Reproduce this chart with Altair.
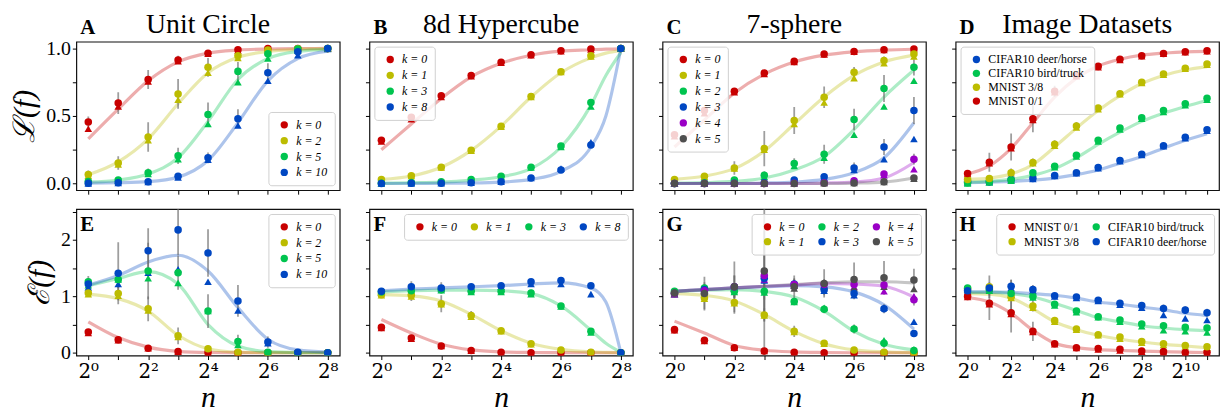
import altair as alt
import pandas as pd

FONT = "Liberation Serif"
RED, YEL, GRN, BLU, PUR, GRY = "#c80000", "#bcbc00", "#00c44f", "#0047c2", "#9a00c6", "#4f4f4f"

X9 = [0, 1, 2, 3, 4, 5, 6, 7, 8]
X12 = [0, 1, 2, 3, 4, 5, 6, 7, 8, 9, 10, 11]
XB = [0, 1, 2, 3, 4, 5, 6, 7, 7.5, 8]

# ---------------- Panel A: Unit Circle ----------------
A_LABELS = ["k = 0", "k = 2", "k = 5", "k = 10"]
A_CIRC = [[0.455, 0.595, 0.77, 0.915, 0.965, 0.99, 1.0, 1.0, 1.0],
          [0.066, 0.152, 0.344, 0.663, 0.86, 0.946, 0.988, 0.998, 1.0],
          [0.015, 0.025, 0.08, 0.205, 0.51, 0.83, 0.96, 0.995, 1.0],
          [0.002, 0.005, 0.012, 0.054, 0.19, 0.48, 0.82, 0.975, 1.0]]
A_TRI = [[0.405, 0.57, 0.755, 0.905, 0.96, 0.985, 0.995, 1.0, 1.0],
         [0.058, 0.14, 0.32, 0.62, 0.82, 0.93, 0.98, 0.995, 1.0],
         [0.01, 0.02, 0.07, 0.18, 0.44, 0.75, 0.925, 0.985, 1.0],
         [0.0, 0.003, 0.01, 0.045, 0.175, 0.43, 0.76, 0.95, 0.995]]
A_ERR = [[0.04, 0.08, 0.07, 0.03, 0.02, 0.01, 0.005, 0.0, 0.0],
         [0.03, 0.05, 0.11, 0.11, 0.07, 0.03, 0.01, 0.005, 0.0],
         [0.01, 0.02, 0.03, 0.06, 0.09, 0.07, 0.03, 0.01, 0.0],
         [0.0, 0.005, 0.01, 0.02, 0.04, 0.07, 0.07, 0.03, 0.01]]
A_CURVE = [[0.33, 0.55, 0.76, 0.90, 0.965, 0.988, 0.996, 0.999, 1.0],
           [0.065, 0.16, 0.33, 0.59, 0.82, 0.935, 0.978, 0.993, 0.998],
           [0.01, 0.025, 0.07, 0.19, 0.46, 0.77, 0.925, 0.978, 0.993],
           [0.002, 0.005, 0.013, 0.047, 0.17, 0.45, 0.76, 0.925, 0.98]]

# ---------------- Panel B: 8d Hypercube ----------------
B_LABELS = ["k = 0", "k = 1", "k = 3", "k = 8"]
B_CIRC = [[0.32, 0.49, 0.65, 0.80, 0.897, 0.953, 0.983, 0.995, 1.0],
          [0.03, 0.057, 0.12, 0.246, 0.423, 0.644, 0.828, 0.945, 1.0],
          [0.002, 0.007, 0.012, 0.03, 0.054, 0.12, 0.278, 0.60, 1.0],
          [0.0, 0.001, 0.002, 0.005, 0.012, 0.04, 0.10, 0.285, 1.0]]
B_TRI = [[0.31, 0.475, 0.64, 0.795, 0.895, 0.95, 0.98, 0.993, 1.0],
         [0.028, 0.055, 0.118, 0.243, 0.42, 0.64, 0.825, 0.94, 1.0],
         [0.001, 0.006, 0.011, 0.028, 0.052, 0.118, 0.27, 0.57, 1.0],
         [0.0, 0.0, 0.002, 0.005, 0.012, 0.04, 0.11, 0.305, 1.0]]
B_ERR = [[0.015, 0.02, 0.015, 0.01, 0.01, 0.005, 0.005, 0.0, 0.0],
         [0.005, 0.01, 0.015, 0.02, 0.025, 0.02, 0.01, 0.01, 0.0],
         [0.0, 0.0, 0.0, 0.005, 0.01, 0.015, 0.02, 0.02, 0.0],
         [0.0, 0.0, 0.0, 0.0, 0.005, 0.01, 0.02, 0.02, 0.0]]
B_CURVE = [[0.25, 0.44, 0.63, 0.79, 0.89, 0.95, 0.98, 0.99, 0.995, 0.997],
           [0.03, 0.055, 0.12, 0.245, 0.425, 0.64, 0.82, 0.93, 0.965, 0.985],
           [0.002, 0.005, 0.01, 0.025, 0.05, 0.11, 0.27, 0.58, 0.8, 0.97],
           [0.0, 0.0, 0.001, 0.003, 0.01, 0.03, 0.09, 0.27, 0.5, 1.0]]

# ---------------- Panel C: 7-sphere ----------------
C_LABELS = ["k = 0", "k = 1", "k = 2", "k = 3", "k = 4", "k = 5"]
C_CIRC = [[0.36, 0.54, 0.683, 0.818, 0.904, 0.958, 0.978, 0.99, 0.995],
          [0.03, 0.054, 0.115, 0.258, 0.467, 0.639, 0.823, 0.91, 0.958],
          [0.0, 0.005, 0.025, 0.06, 0.147, 0.216, 0.474, 0.703, 0.86],
          [0.0, 0.0, 0.001, 0.005, 0.025, 0.05, 0.115, 0.27, 0.54],
          [0.0, 0.0, 0.0, 0.0, 0.002, 0.006, 0.02, 0.07, 0.18],
          [0.0, 0.0, 0.0, 0.0, 0.0, 0.002, 0.004, 0.012, 0.04]]
C_TRI = [[0.35, 0.52, 0.675, 0.81, 0.9, 0.955, 0.975, 0.988, 0.995],
         [0.028, 0.05, 0.11, 0.25, 0.44, 0.60, 0.78, 0.89, 0.94],
         [0.0, 0.004, 0.02, 0.05, 0.13, 0.19, 0.36, 0.57, 0.76],
         [0.0, 0.0, 0.001, 0.004, 0.02, 0.045, 0.1, 0.18, 0.33],
         [0.0, 0.0, 0.0, 0.0, 0.002, 0.005, 0.015, 0.06, 0.105],
         [0.0, 0.0, 0.0, 0.0, 0.0, 0.002, 0.004, 0.01, 0.035]]
C_ERR = [[0.02, 0.02, 0.02, 0.015, 0.01, 0.01, 0.005, 0.005, 0.0],
         [0.01, 0.02, 0.05, 0.13, 0.1, 0.08, 0.04, 0.03, 0.02],
         [0.0, 0.005, 0.01, 0.03, 0.04, 0.07, 0.08, 0.1, 0.06],
         [0.0, 0.0, 0.0, 0.005, 0.01, 0.02, 0.04, 0.06, 0.1],
         [0.0, 0.0, 0.0, 0.0, 0.0, 0.005, 0.01, 0.02, 0.04],
         [0.0, 0.0, 0.0, 0.0, 0.0, 0.0, 0.005, 0.01, 0.02]]
C_CURVE = [[0.27, 0.47, 0.67, 0.81, 0.9, 0.95, 0.975, 0.988, 0.994],
           [0.03, 0.055, 0.11, 0.24, 0.44, 0.64, 0.80, 0.90, 0.95],
           [0.002, 0.006, 0.015, 0.04, 0.1, 0.2, 0.4, 0.64, 0.84],
           [0.0, 0.0, 0.0, 0.003, 0.01, 0.03, 0.08, 0.19, 0.45],
           [0.0, 0.0, 0.0, 0.0, 0.0, 0.003, 0.01, 0.04, 0.155],
           [0.0, 0.0, 0.0, 0.0, 0.0, 0.0, 0.003, 0.01, 0.04]]

# ---------------- Panel D: Image Datasets ----------------
D_LABELS = ["CIFAR10 deer/horse", "CIFAR10 bird/truck", "MNIST 3/8", "MNIST 0/1"]
D_CIRC = [[0.012, 0.012, 0.03, 0.037, 0.059, 0.08, 0.118, 0.17, 0.216, 0.28, 0.342, 0.398],
          [0.005, 0.012, 0.025, 0.08, 0.128, 0.209, 0.32, 0.41, 0.486, 0.54, 0.59, 0.631],
          [0.03, 0.037, 0.08, 0.155, 0.29, 0.425, 0.558, 0.665, 0.75, 0.81, 0.853, 0.885],
          [0.074, 0.157, 0.27, 0.48, 0.683, 0.80, 0.867, 0.92, 0.946, 0.963, 0.975, 0.983]]
D_TRI = [[0.008, 0.01, 0.025, 0.033, 0.055, 0.075, 0.112, 0.165, 0.21, 0.275, 0.335, 0.39],
         [0.0, 0.008, 0.02, 0.075, 0.12, 0.2, 0.31, 0.4, 0.48, 0.53, 0.58, 0.62],
         [0.025, 0.03, 0.075, 0.15, 0.28, 0.415, 0.55, 0.66, 0.745, 0.805, 0.85, 0.88],
         [0.07, 0.15, 0.26, 0.47, 0.675, 0.795, 0.86, 0.915, 0.942, 0.96, 0.972, 0.98]]
D_ERR = [[0.01, 0.02, 0.03, 0.015, 0.01, 0.01, 0.01, 0.01, 0.01, 0.01, 0.01, 0.01],
         [0.005, 0.01, 0.01, 0.02, 0.02, 0.02, 0.02, 0.015, 0.01, 0.01, 0.01, 0.01],
         [0.01, 0.015, 0.03, 0.03, 0.03, 0.03, 0.02, 0.02, 0.01, 0.01, 0.01, 0.01],
         [0.02, 0.07, 0.1, 0.1, 0.04, 0.02, 0.01, 0.01, 0.01, 0.005, 0.005, 0.005]]
D_CURVE = [[0.005, 0.01, 0.015, 0.025, 0.04, 0.065, 0.1, 0.15, 0.2, 0.26, 0.32, 0.368],
           [0.01, 0.015, 0.03, 0.06, 0.11, 0.19, 0.29, 0.38, 0.46, 0.52, 0.57, 0.614],
           [0.03, 0.04, 0.07, 0.14, 0.27, 0.41, 0.54, 0.65, 0.74, 0.8, 0.84, 0.865],
           [0.07, 0.13, 0.26, 0.45, 0.64, 0.78, 0.87, 0.92, 0.95, 0.965, 0.975, 0.978]]

# ---------------- Panel E: Unit Circle (bottom) ----------------
E_LABELS = ["k = 0", "k = 2", "k = 5", "k = 10"]
E_CIRC = [[0.37, 0.23, 0.08, 0.02, 0.005, 0.0, 0.0, 0.0, 0.0],
          [1.06, 1.05, 0.78, 0.30, 0.07, 0.01, 0.0, 0.0, 0.0],
          [1.26, 1.30, 1.45, 1.42, 0.74, 0.20, 0.01, 0.0, 0.0],
          [1.22, 1.41, 1.81, 2.18, 1.77, 0.92, 0.19, 0.01, 0.0]]
E_TRI = [[0.35, 0.22, 0.08, 0.02, 0.005, 0.0, 0.0, 0.0, 0.0],
         [1.04, 1.01, 0.75, 0.28, 0.04, 0.005, 0.0, 0.0, 0.0],
         [1.2, 1.3, 1.32, 1.24, 0.74, 0.14, 0.01, 0.0, 0.0],
         [1.16, 1.22, 1.42, 1.48, 1.26, 0.75, 0.17, 0.005, 0.0]]
E_ERR = [[0.05, 0.05, 0.02, 0.01, 0.0, 0.0, 0.0, 0.0, 0.0],
         [0.05, 0.12, 0.22, 0.15, 0.06, 0.02, 0.0, 0.0, 0.0],
         [0.1, 0.15, 0.5, 0.3, 0.3, 0.12, 0.02, 0.0, 0.0],
         [0.1, 0.55, 0.4, 0.45, 0.42, 0.28, 0.1, 0.02, 0.0]]
E_CURVE = [[0.55, 0.27, 0.1, 0.025, 0.005, 0.001, 0.0, 0.0, 0.0],
           [1.04, 0.96, 0.74, 0.31, 0.07, 0.01, 0.002, 0.0, 0.0],
           [1.19, 1.32, 1.44, 1.22, 0.5, 0.12, 0.02, 0.003, 0.0],
           [1.2, 1.37, 1.61, 1.73, 1.45, 0.8, 0.24, 0.05, 0.01]]

# ---------------- Panel F: 8d Hypercube (bottom) ----------------
F_LABELS = ["k = 0", "k = 1", "k = 3", "k = 8"]
F_CIRC = [[0.45, 0.26, 0.12, 0.04, 0.01, 0.0, 0.0, 0.0, 0.0],
          [1.03, 1.02, 0.87, 0.66, 0.39, 0.16, 0.05, 0.01, 0.0],
          [1.08, 1.1, 1.12, 1.09, 1.09, 1.06, 0.83, 0.38, 0.0],
          [1.09, 1.17, 1.15, 1.17, 1.19, 1.26, 1.28, 1.19, 0.0]]
F_TRI = [[0.44, 0.25, 0.12, 0.035, 0.01, 0.0, 0.0, 0.0, 0.0],
         [1.02, 1.0, 0.86, 0.64, 0.38, 0.15, 0.045, 0.01, 0.0],
         [1.07, 1.09, 1.11, 1.08, 1.08, 1.04, 0.82, 0.36, 0.0],
         [1.08, 1.14, 1.13, 1.15, 1.17, 1.22, 1.22, 1.04, 0.0]]
F_ERR = [[0.03, 0.03, 0.02, 0.01, 0.0, 0.0, 0.0, 0.0, 0.0],
         [0.03, 0.1, 0.15, 0.08, 0.04, 0.02, 0.01, 0.0, 0.0],
         [0.03, 0.05, 0.05, 0.04, 0.05, 0.06, 0.04, 0.03, 0.0],
         [0.03, 0.1, 0.1, 0.05, 0.04, 0.04, 0.04, 0.03, 0.0]]
F_CURVE = [[0.59, 0.35, 0.15, 0.05, 0.015, 0.005, 0.002, 0.0, 0.0, 0.0],
           [1.03, 1.01, 0.92, 0.68, 0.39, 0.17, 0.06, 0.015, 0.008, 0.003],
           [1.08, 1.1, 1.11, 1.11, 1.1, 1.05, 0.83, 0.4, 0.17, 0.01],
           [1.1, 1.13, 1.15, 1.17, 1.19, 1.22, 1.24, 1.15, 0.9, 0.0]]

# ---------------- Panel G: 7-sphere (bottom) ----------------
G_LABELS = ["k = 0", "k = 1", "k = 2", "k = 3", "k = 4", "k = 5"]
G_CIRC = [[0.41, 0.22, 0.09, 0.03, 0.01, 0.0, 0.0, 0.0, 0.0],
          [1.05, 0.97, 0.89, 0.67, 0.38, 0.17, 0.05, 0.01, 0.0],
          [1.09, 1.15, 1.09, 1.09, 0.91, 0.77, 0.42, 0.17, 0.04],
          [1.05, 1.12, 1.17, 1.32, 1.22, 1.12, 1.05, 0.78, 0.34],
          [1.05, 1.1, 1.17, 1.37, 1.21, 1.21, 1.21, 1.2, 0.94],
          [1.06, 1.05, 1.17, 1.45, 1.17, 1.23, 1.30, 1.33, 1.29]]
G_TRI = [[0.4, 0.21, 0.09, 0.03, 0.01, 0.0, 0.0, 0.0, 0.0],
         [1.04, 0.96, 0.88, 0.66, 0.37, 0.16, 0.05, 0.01, 0.0],
         [1.08, 1.13, 1.08, 1.07, 0.9, 0.8, 0.44, 0.22, 0.06],
         [1.04, 1.1, 1.15, 1.28, 1.2, 1.1, 1.02, 0.8, 0.55],
         [1.04, 1.09, 1.15, 1.3, 1.19, 1.18, 1.17, 1.09, 1.0],
         [1.05, 1.04, 1.15, 1.4, 1.14, 1.2, 1.15, 1.17, 1.13]]
G_ERR = [[0.03, 0.03, 0.02, 0.01, 0.0, 0.0, 0.0, 0.0, 0.0],
         [0.05, 0.2, 0.2, 0.12, 0.1, 0.05, 0.02, 0.01, 0.0],
         [0.05, 0.1, 0.1, 0.15, 0.06, 0.07, 0.08, 0.08, 0.04],
         [0.05, 0.1, 0.2, 0.6, 0.1, 0.1, 0.1, 0.08, 0.06],
         [0.05, 0.1, 0.2, 0.8, 0.1, 0.1, 0.1, 0.1, 0.1],
         [0.05, 0.3, 0.45, 1.5, 0.2, 0.25, 0.3, 0.3, 0.2]]
G_CURVE = [[0.56, 0.35, 0.13, 0.045, 0.015, 0.005, 0.0, 0.0, 0.0],
           [1.05, 1.02, 0.92, 0.68, 0.38, 0.16, 0.05, 0.015, 0.003],
           [1.09, 1.11, 1.12, 1.09, 0.99, 0.74, 0.38, 0.15, 0.05],
           [1.09, 1.12, 1.15, 1.17, 1.19, 1.17, 1.08, 0.85, 0.42],
           [1.09, 1.12, 1.15, 1.18, 1.2, 1.23, 1.22, 1.18, 0.99],
           [1.09, 1.12, 1.15, 1.18, 1.21, 1.24, 1.26, 1.26, 1.24]]

# ---------------- Panel H: Image Datasets (bottom) ----------------
H_LABELS = ["MNIST 0/1", "MNIST 3/8", "CIFAR10 bird/truck", "CIFAR10 deer/horse"]
H_CIRC = [[1.0, 0.88, 0.71, 0.38, 0.16, 0.09, 0.075, 0.06, 0.03, 0.02, 0.005, 0.005],
          [1.13, 1.17, 0.99, 0.83, 0.57, 0.42, 0.32, 0.28, 0.2, 0.16, 0.13, 0.105],
          [1.15, 1.12, 1.05, 1.0, 0.86, 0.74, 0.64, 0.58, 0.51, 0.48, 0.45, 0.44],
          [1.1, 1.15, 1.18, 1.12, 1.01, 0.99, 0.93, 0.88, 0.84, 0.785, 0.756, 0.71]]
H_TRI = [[0.99, 0.86, 0.69, 0.37, 0.15, 0.085, 0.06, 0.04, 0.02, 0.01, 0.005, 0.0],
         [1.12, 1.15, 0.97, 0.8, 0.55, 0.41, 0.31, 0.25, 0.18, 0.14, 0.11, 0.09],
         [1.13, 1.1, 1.03, 0.98, 0.84, 0.72, 0.63, 0.55, 0.47, 0.4, 0.38, 0.36],
         [1.09, 1.13, 1.15, 1.1, 1.0, 0.97, 0.92, 0.85, 0.8, 0.67, 0.61, 0.58]]
H_ERR = [[0.02, 0.3, 0.35, 0.17, 0.03, 0.02, 0.02, 0.02, 0.01, 0.01, 0.01, 0.01],
         [0.05, 0.2, 0.3, 0.1, 0.03, 0.03, 0.02, 0.02, 0.02, 0.02, 0.02, 0.02],
         [0.05, 0.1, 0.1, 0.05, 0.03, 0.03, 0.03, 0.04, 0.04, 0.05, 0.05, 0.05],
         [0.05, 0.1, 0.12, 0.08, 0.03, 0.03, 0.04, 0.05, 0.05, 0.07, 0.07, 0.07]]
H_CURVE = [[0.98, 0.9, 0.7, 0.4, 0.17, 0.09, 0.055, 0.04, 0.03, 0.02, 0.01, 0.005],
           [1.05, 1.04, 0.97, 0.78, 0.55, 0.41, 0.31, 0.24, 0.19, 0.15, 0.12, 0.09],
           [1.07, 1.07, 1.05, 0.99, 0.88, 0.75, 0.62, 0.55, 0.48, 0.44, 0.41, 0.39],
           [1.08, 1.08, 1.07, 1.05, 1.02, 0.97, 0.9, 0.86, 0.81, 0.76, 0.70, 0.66]]

TITLES = ["Unit Circle", "8d Hypercube", "7-sphere", "Image Datasets"]
SUP = str.maketrans("0123456789", "⁰¹²³⁴⁵⁶⁷⁸⁹")

W, H_TOP, H_BOT = 266, 150, 148


def panel(letter, labels, colors, xs, circ, tri, err, cx, curves, row, legend,
          title=None, show_y=False, ytitle=None):
    pts = pd.DataFrame([{"s": lab, "x": x, "c": c, "t": t, "lo": c - e, "hi": c + e}
                        for lab, cs, ts, es in zip(labels, circ, tri, err)
                        for x, c, t, e in zip(xs, cs, ts, es)])
    cur = pd.DataFrame([{"s": lab, "x": x, "y": y}
                        for lab, ys in zip(labels, curves) for x, y in zip(cx, ys)])
    xmax = xs[-1]
    xsc = alt.Scale(domain=[-0.05 * xmax, 1.05 * xmax], nice=False, zero=False)
    if row == 0:
        ysc = alt.Scale(domain=[-0.05, 1.05], nice=False, zero=False)
        yvals = [0, 0.25, 0.5, 0.75, 1.0]
        yexpr = "(datum.value == 0.25 || datum.value == 0.75) ? '' : format(datum.value, '.1f')"
    else:
        ysc = alt.Scale(domain=[-0.05, 2.55], nice=False, zero=False)
        yvals = [0, 0.5, 1, 1.5, 2, 2.5]
        yexpr = "(datum.value % 1) ? '' : format(datum.value, 'd')"
    xlabs = [("2" + str(v).translate(SUP)) if v % 2 == 0 else "" for v in range(xmax + 1)]
    xexpr = "[" + ",".join("'" + l + "'" for l in xlabs) + "][datum.value]"
    xaxis = alt.Axis(values=list(range(xmax + 1)), labels=(row == 1), labelExpr=xexpr,
                     labelFont="DejaVu Serif", labelFontSize=20, labelPadding=2,
                     titleFontSize=30, titleFontStyle="italic", titleFontWeight="normal",
                     titlePadding=1)
    yaxis = alt.Axis(values=yvals, labels=show_y, labelExpr=yexpr, labelFontSize=20,
                     titleFontSize=30, titleFontWeight="normal", titleFontStyle="italic",
                     titlePadding=6)
    xt = "n" if row == 1 else None
    X = alt.X("x:Q", scale=xsc, axis=xaxis, title=xt)
    col = alt.Color("s:N", scale=alt.Scale(domain=labels, range=colors), legend=legend)

    curves_l = alt.Chart(cur).mark_line(interpolate="monotone", strokeWidth=3.2,
                                        opacity=0.32, clip=True).encode(
        x=X, y=alt.Y("y:Q", scale=ysc, axis=yaxis, title=ytitle), color=col)
    bars = alt.Chart(pts).mark_rule(color="#6a6a6a", opacity=0.65, strokeWidth=1.8,
                                    clip=True).encode(
        x=X, y=alt.Y("lo:Q", scale=ysc, axis=yaxis, title=ytitle), y2="hi:Q")
    tris = alt.Chart(pts).mark_point(shape="triangle-up", filled=True, size=58,
                                     opacity=1, clip=True).encode(
        x=X, y=alt.Y("t:Q", scale=ysc, axis=yaxis, title=ytitle), color=col)
    circs = alt.Chart(pts).mark_circle(size=58, opacity=1, clip=True).encode(
        x=X, y=alt.Y("c:Q", scale=ysc, axis=yaxis, title=ytitle), color=col)
    lety = -8 if row == 0 else 22
    let = alt.Chart(pd.DataFrame({"t": [letter]})).mark_text(
        align="left", baseline="alphabetic", font=FONT, fontSize=21,
        fontWeight="bold", color="#000").encode(
        x=alt.value(4), y=alt.value(lety), text="t:N")
    layers = [curves_l, bars, tris, circs, let]
    if title:
        tt = alt.Chart(pd.DataFrame({"t": [title]})).mark_text(
            align="center", baseline="alphabetic", font=FONT, fontSize=28,
            color="#000").encode(x=alt.value(W / 2), y=alt.value(-9), text="t:N")
        layers.append(tt)
    return alt.layer(*layers).properties(width=W, height=H_TOP if row == 0 else H_BOT)


def leg(orient, italic=True, columns=None, rowpad=3):
    kw = dict(orient=orient, title=None, labelFont=FONT, labelFontSize=12,
              labelFontStyle="italic" if italic else "normal", labelColor="#000",
              symbolType="circle", symbolSize=55, symbolStrokeWidth=0, symbolOpacity=1,
              fillColor="rgba(255,255,255,0.82)", strokeColor="#cfcfcf",
              cornerRadius=3, padding=7, offset=5, rowPadding=rowpad, labelOffset=6,
              symbolOffset=3, columnPadding=8)
    if columns:
        kw["columns"] = columns
    return alt.Legend(**kw)


A = panel("A", A_LABELS, [RED, YEL, GRN, BLU], X9, A_CIRC, A_TRI, A_ERR, X9, A_CURVE, 0,
          leg("bottom-right", rowpad=4), title=TITLES[0], show_y=True, ytitle="ℒ(f)")
B = panel("B", B_LABELS, [RED, YEL, GRN, BLU], X9, B_CIRC, B_TRI, B_ERR, XB, B_CURVE, 0,
          leg("top-left", rowpad=4), title=TITLES[1])
C = panel("C", C_LABELS, [RED, YEL, GRN, BLU, PUR, GRY], X9, C_CIRC, C_TRI, C_ERR, X9, C_CURVE, 0,
          leg("top-left", rowpad=4), title=TITLES[2])
D = panel("D", D_LABELS, [BLU, GRN, YEL, RED], X12, D_CIRC, D_TRI, D_ERR, X12, D_CURVE, 0,
          leg("top-left", italic=False, rowpad=2), title=TITLES[3])
E = panel("E", E_LABELS, [RED, YEL, GRN, BLU], X9, E_CIRC, E_TRI, E_ERR, X9, E_CURVE, 1,
          leg("top-right", rowpad=4), show_y=True, ytitle="ℰ(f)")
F = panel("F", F_LABELS, [RED, YEL, GRN, BLU], X9, F_CIRC, F_TRI, F_ERR, XB, F_CURVE, 1,
          leg("top-right", columns=4))
G = panel("G", G_LABELS, [RED, YEL, GRN, BLU, PUR, GRY], X9, G_CIRC, G_TRI, G_ERR, X9, G_CURVE, 1,
          leg("top-right", columns=3))
H = panel("H", H_LABELS, [RED, YEL, GRN, BLU], X12, H_CIRC, H_TRI, H_ERR, X12, H_CURVE, 1,
          leg("top-right", italic=False, columns=2))

chart = alt.concat(A, B, C, D, E, F, G, H, columns=4,
                   spacing={"row": 19, "column": 30}, bounds="flush").resolve_scale(
    color="independent", x="independent", y="independent").resolve_legend(
    color="independent").properties(
    padding={"left": 1, "top": 0, "right": 0, "bottom": 0}
).configure_view(stroke="#111", strokeWidth=1.2).configure_axis(
    grid=False, domain=False, tickColor="#000", tickSize=4, tickWidth=1,
    labelFont=FONT, titleFont=FONT, labelColor="#000", titleColor="#000")

chart.save("out.html", embed_options={"renderer": "svg", "actions": False})
